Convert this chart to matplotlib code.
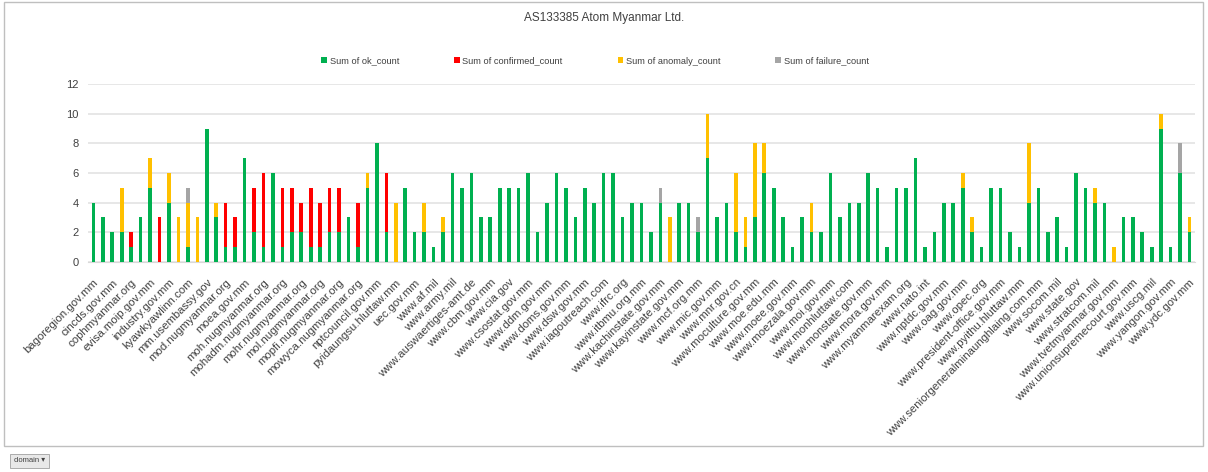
import matplotlib.pyplot as plt
import numpy as np
from matplotlib.patches import Rectangle

plt.rcParams['font.family'] = ['Liberation Sans', 'DejaVu Sans']

# counts per domain (117 bars)
ok_count = [4, 3, 2, 2, 1, 3, 5, 0, 4, 0, 1, 0, 9, 3, 1, 1, 7, 2, 1, 6,
            1, 2, 2, 1, 1, 2, 2, 3, 1, 5, 8, 2, 0, 5, 2, 2, 1, 2, 6, 5,
            6, 3, 3, 5, 5, 5, 6, 2, 4, 6, 5, 3, 5, 4, 6, 6, 3, 4, 4, 2,
            4, 0, 4, 4, 2, 7, 3, 4, 2, 1, 3, 6, 5, 3, 1, 3, 2, 2, 6, 3,
            4, 4, 6, 5, 1, 5, 5, 7, 1, 2, 4, 4, 5, 2, 1, 5, 5, 2, 1, 4,
            5, 2, 3, 1, 6, 5, 4, 4, 0, 3, 3, 2, 1, 9, 1, 6, 2]
confirmed_count = [0, 0, 0, 0, 1, 0, 0, 3, 0, 0, 0, 0, 0, 0, 3, 2, 0, 3, 5, 0,
                   4, 3, 2, 4, 3, 3, 3, 0, 3, 0, 0, 4, 0, 0, 0, 0, 0, 0, 0, 0,
                   0, 0, 0, 0, 0, 0, 0, 0, 0, 0, 0, 0, 0, 0, 0, 0, 0, 0, 0, 0,
                   0, 0, 0, 0, 0, 0, 0, 0, 0, 0, 0, 0, 0, 0, 0, 0, 0, 0, 0, 0,
                   0, 0, 0, 0, 0, 0, 0, 0, 0, 0, 0, 0, 0, 0, 0, 0, 0, 0, 0, 0,
                   0, 0, 0, 0, 0, 0, 0, 0, 0, 0, 0, 0, 0, 0, 0, 0, 0]
anomaly_count = [0, 0, 0, 3, 0, 0, 2, 0, 2, 3, 3, 3, 0, 1, 0, 0, 0, 0, 0, 0,
                 0, 0, 0, 0, 0, 0, 0, 0, 0, 1, 0, 0, 4, 0, 0, 2, 0, 1, 0, 0,
                 0, 0, 0, 0, 0, 0, 0, 0, 0, 0, 0, 0, 0, 0, 0, 0, 0, 0, 0, 0,
                 0, 3, 0, 0, 0, 3, 0, 0, 4, 2, 5, 2, 0, 0, 0, 0, 2, 0, 0, 0,
                 0, 0, 0, 0, 0, 0, 0, 0, 0, 0, 0, 0, 1, 1, 0, 0, 0, 0, 0, 4,
                 0, 0, 0, 0, 0, 0, 1, 0, 1, 0, 0, 0, 0, 1, 0, 0, 1]
failure_count = [0, 0, 0, 0, 0, 0, 0, 0, 0, 0, 1, 0, 0, 0, 0, 0, 0, 0, 0, 0,
                 0, 0, 0, 0, 0, 0, 0, 0, 0, 0, 0, 0, 0, 0, 0, 0, 0, 0, 0, 0,
                 0, 0, 0, 0, 0, 0, 0, 0, 0, 0, 0, 0, 0, 0, 0, 0, 0, 0, 0, 0,
                 1, 0, 0, 0, 1, 0, 0, 0, 0, 0, 0, 0, 0, 0, 0, 0, 0, 0, 0, 0,
                 0, 0, 0, 0, 0, 0, 0, 0, 0, 0, 0, 0, 0, 0, 0, 0, 0, 0, 0, 0,
                 0, 0, 0, 0, 0, 0, 0, 0, 0, 0, 0, 0, 0, 0, 0, 2, 0]

# only every other category gets a label on the axis
tick_labels = [
    'bagoregion.gov.mm', 'cincds.gov.mm', 'cophmyanmar.org', 'evisa.moip.gov.mm',
    'industry.gov.mm', 'kyawkyawlinn.com', 'mm.usembassy.gov', 'mod.nugmyanmar.org',
    'moea.gov.mm', 'moh.nugmyanmar.org', 'mohadm.nugmyanmar.org', 'mohr.nugmyanmar.org',
    'mol.nugmyanmar.org', 'mopfi.nugmyanmar.org', 'mowyca.nugmyanmar.org',
    'nptcouncil.gov.mm', 'pyidaungsu.hluttaw.mm', 'uec.gov.mm', 'www.af.mil',
    'www.army.mil', 'www.auswaertiges-amt.de', 'www.cbm.gov.mm', 'www.cia.gov',
    'www.csostat.gov.mm', 'www.ddm.gov.mm', 'www.doms.gov.mm', 'www.dsw.gov.mm',
    'www.iagoutreach.com', 'www.ifrc.org', 'www.itbmu.org.mm', 'www.kachinstate.gov.mm',
    'www.kayinstate.gov.mm', 'www.mcf.org.mm', 'www.mic.gov.mm', 'www.mnr.gov.cn',
    'www.moculture.gov.mm', 'www.moe.edu.mm', 'www.moee.gov.mm', 'www.moezala.gov.mm',
    'www.moi.gov.mm', 'www.monhluttaw.com', 'www.monstate.gov.mm', 'www.mora.gov.mm',
    'www.myanmarexam.org', 'www.nato.int', 'www.nptdc.gov.mm', 'www.oag.gov.mm',
    'www.opec.org', 'www.president-office.gov.mm', 'www.pyithu.hluttaw.mm',
    'www.seniorgeneralminaunghlaing.com.mm', 'www.socom.mil', 'www.state.gov',
    'www.stratcom.mil', 'www.tvetmyanmar.gov.mm', 'www.unionsupremecourt.gov.mm',
    'www.uscg.mil', 'www.yangon.gov.mm', 'www.ydc.gov.mm']

series = [
    ('Sum of ok_count', ok_count, '#00B050'),
    ('Sum of confirmed_count', confirmed_count, '#FF0000'),
    ('Sum of anomaly_count', anomaly_count, '#FFC000'),
    ('Sum of failure_count', failure_count, '#A5A5A5'),
]

fig = plt.figure(figsize=(12.08, 4.72), dpi=100)
ax = fig.add_axes([0.073, 0.445, 0.916, 0.377])

x = np.arange(len(ok_count))
bottom = np.zeros(len(x))
for name, vals, col in series:
    vals = np.array(vals)
    ax.bar(x, vals, bottom=bottom, width=0.38, color=col, label=name, zorder=3)
    bottom += vals

ax.set_xlim(-0.55, len(x) - 0.45)
ax.set_ylim(0, 12)
ax.set_yticks(range(0, 13, 2))
ax.yaxis.grid(True, color='#E3E3E3', linewidth=1.2, zorder=0)
ax.set_xticks(x[::2])
ax.set_xticklabels(tick_labels, rotation=45, ha='right', rotation_mode='anchor',
                   fontsize=8.2, color='#404040')
ax.tick_params(axis='both', length=0, colors='#404040')
ax.tick_params(axis='y', labelsize=8, pad=7)
ax.tick_params(axis='x', pad=11)
for s in ['top', 'right', 'left']:
    ax.spines[s].set_visible(False)
ax.spines['bottom'].set_color('#D9D9D9')

fig.text(0.5, 1 - 18 / 472, 'AS133385 Atom Myanmar Ltd.', ha='center', va='center',
         fontsize=8.5, color='#404040')
fig.legend(loc='center', bbox_to_anchor=(595 / 1208, 1 - 61 / 472), ncol=4, frameon=False,
           fontsize=6.7, handlelength=0.6, handleheight=0.6, handletextpad=0.3,
           columnspacing=5.9, labelcolor='#404040')

# chart frame and the pivot field button
fig.patches.append(Rectangle((4 / 1208, 1 - 446 / 472), 1199 / 1208, 444 / 472,
                             transform=fig.transFigure, fill=False,
                             edgecolor='#BFBFBF', linewidth=1))
fig.text(14 / 1208, 1 - 461 / 472, 'domain ▾', fontsize=5.5, color='#404040',
         va='center', family=['Liberation Sans', 'DejaVu Sans'],
         bbox=dict(boxstyle='square,pad=0.5', facecolor='#E8E8E8', edgecolor='#A0A0A0',
                   linewidth=0.6))

fig.savefig('out.png', dpi=100)
